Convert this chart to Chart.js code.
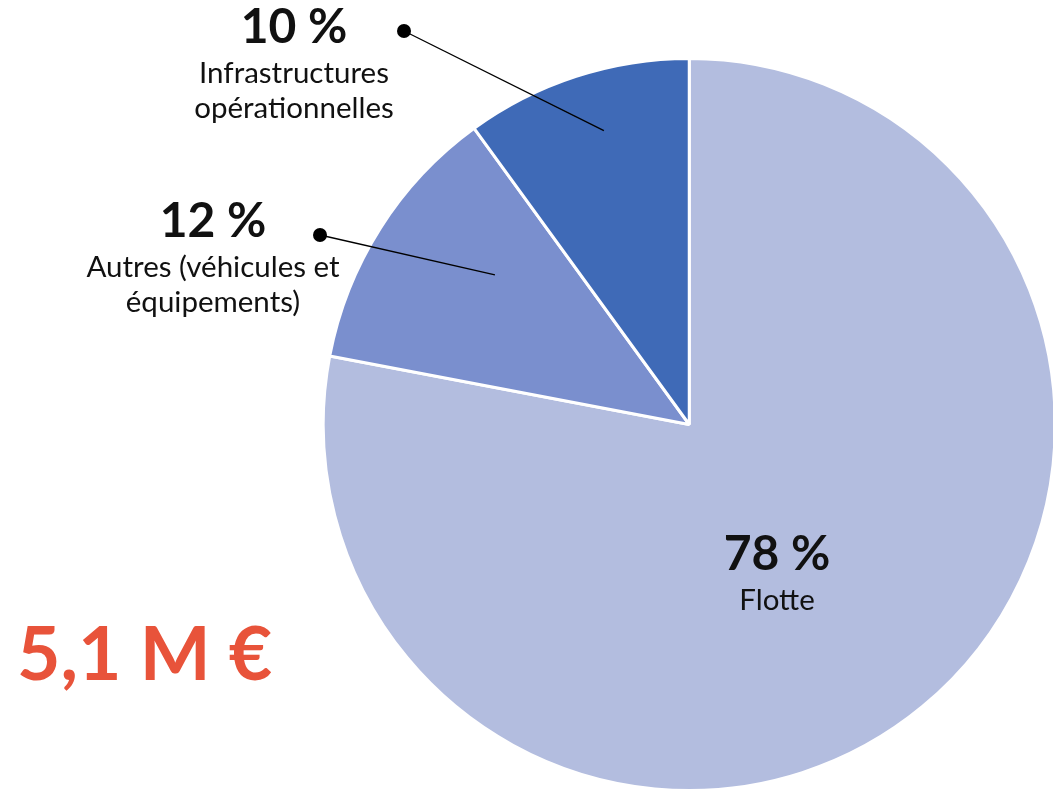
<!DOCTYPE html>
<html>
<head>
<meta charset="utf-8">
<script src="https://cdn.jsdelivr.net/npm/chart.js@4"></script>
<style>
  html, body { margin: 0; padding: 0; background: #fff; overflow: hidden; }
  #wrap { width: 1060px; height: 792px; position: relative; }
</style>
</head>
<body>
<div id="wrap"><canvas id="myChart"></canvas></div>
<script>
// data
const categories = ["Flotte", "Autres (véhicules et équipements)", "Infrastructures opérationnelles"];
const labelLines = [["Flotte"], ["Autres (véhicules et", "équipements)"], ["Infrastructures", "opérationnelles"]];
const values = [78, 12, 10];
const totalLabel = "5,1 M €";

const colors = ["#b3bddf", "#7a8fce", "#3f6ab7"];

// where each label sits; anchor = (fraction across slice angle, fraction of radius)
const labelStyle = [
  { x: 777, y: 555, inside: true },
  { x: 213, y: 222, dotX: 320, dotY: 235, angleFrac: 0.62, radiusFrac: 0.67 },
  { x: 294, y: 28, dotX: 404, dotY: 31, angleFrac: 0.55, radiusFrac: 0.836 }
];

const labelPlugin = {
  id: "labels",
  afterDatasetsDraw(chart) {
    const c = chart.ctx;
    const arcs = chart.getDatasetMeta(0).data;
    c.save();
    arcs.forEach((arc, i) => {
      const s = labelStyle[i];
      if (!s.inside) {
        const a = arc.startAngle + (arc.endAngle - arc.startAngle) * s.angleFrac;
        const r = arc.outerRadius * s.radiusFrac;
        const ax = arc.x + Math.cos(a) * r;
        const ay = arc.y + Math.sin(a) * r;
        c.strokeStyle = "#000";
        c.lineWidth = 1.3;
        c.beginPath();
        c.moveTo(s.dotX, s.dotY);
        c.lineTo(ax, ay);
        c.stroke();
        c.fillStyle = "#000";
        c.beginPath();
        c.arc(s.dotX, s.dotY, 7, 0, Math.PI * 2);
        c.fill();
      }
      c.fillStyle = "#111";
      c.textAlign = "center";
      c.textBaseline = "middle";
      c.font = "bold 48px Lato";
      c.fillText(values[i] + " %", s.x, s.y);
      c.font = "29.5px Lato";
      labelLines[i].forEach((t, j) => {
        c.fillText(t, s.x, s.y + 45 + j * 35);
      });
    });
    c.fillStyle = "#e8533a";
    c.textAlign = "left";
    c.textBaseline = "alphabetic";
    c.font = "bold 75px Lato";
    c.fillText(totalLabel, 17, 680);
    c.restore();
  }
};

new Chart(document.getElementById("myChart"), {
  type: "pie",
  data: {
    labels: categories,
    datasets: [
      {
        data: values,
        backgroundColor: colors,
        borderColor: "#fff",
        borderWidth: 3,
      },
    ],
  },
  options: {
    responsive: true,
    maintainAspectRatio: false,
    animation: false,
    layout: { padding: { left: 321, right: 2.5, top: 57, bottom: 0 } },
    plugins: {
      legend: { display: false },
      tooltip: { enabled: false },
    },
  },
  plugins: [labelPlugin],
});
</script>
</body>
</html>
